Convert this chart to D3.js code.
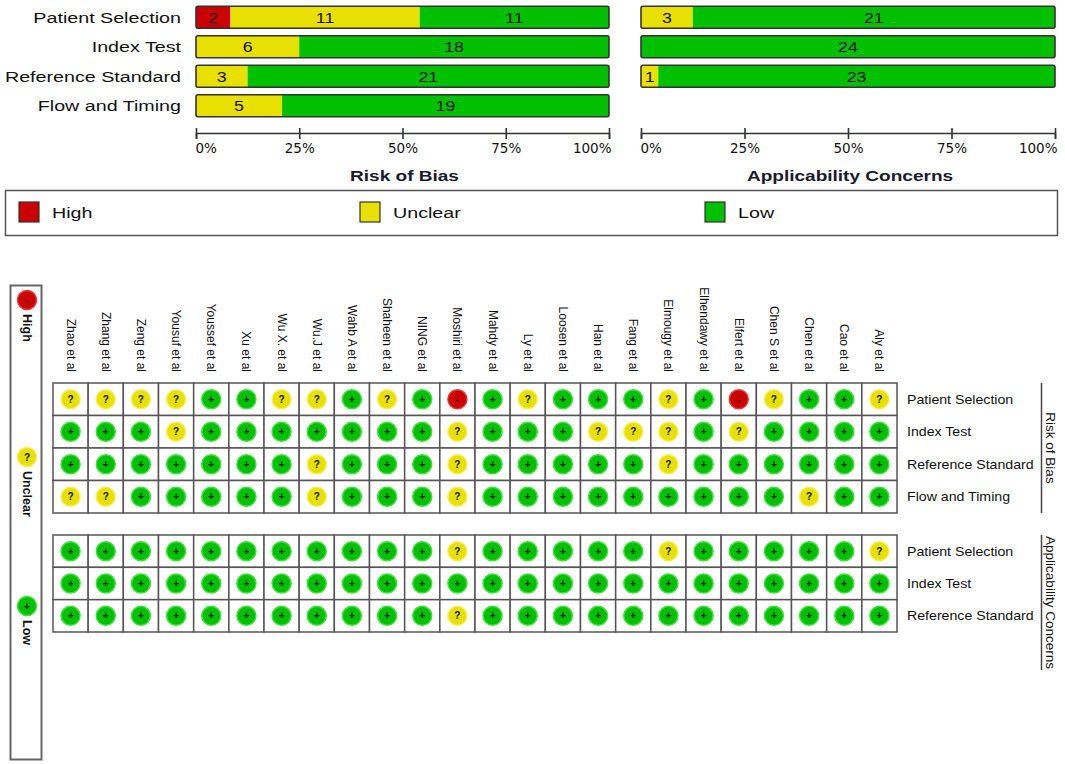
<!DOCTYPE html>
<html>
<head>
<meta charset="utf-8">
<script src="https://cdn.jsdelivr.net/npm/d3@7"></script>
<style>
  body { margin: 0; background: #fff; }
  text { font-family: "Liberation Sans", Arial, sans-serif; fill: #111; }
</style>
</head>
<body>
<div id="chart"></div>
<script>
// Bar chart data (counts of studies)
const domains = ["Patient Selection", "Index Test", "Reference Standard", "Flow and Timing"];
const appDomains = ["Patient Selection", "Index Test", "Reference Standard"];
const robHigh = [2, 0, 0, 0];
const robUnclear = [11, 6, 3, 5];
const robLow = [11, 18, 21, 19];
const appHigh = [0, 0, 0];
const appUnclear = [3, 0, 1];
const appLow = [21, 24, 23];
const pctTicks = [0, 25, 50, 75, 100];

// Study-level judgements: H = high, U = unclear, L = low
const studies = ["Zhao et al", "Zhang et al", "Zeng et al", "Yousuf et al", "Youssef et al", "Xu et al",
  "Wu X. et al", "Wu.J et al", "Wahb A et al", "Shaheen et al", "NING et al", "Moshiri et al",
  "Mahdy et al", "Ly et al", "Loosen et al", "Han et al", "Fang et al", "Elmougy et al",
  "Elhendawy et al", "Elfert et al", "Chen S et al", "Chen et al", "Cao et al", "Aly et al"];
const robPatient = ["U","U","U","U","L","L","U","U","L","U","L","H","L","U","L","L","L","U","L","H","U","L","L","U"];
const robIndex   = ["L","L","L","U","L","L","L","L","L","L","L","U","L","L","L","U","U","U","L","U","L","L","L","L"];
const robRef     = ["L","L","L","L","L","L","L","U","L","L","L","U","L","L","L","L","L","U","L","L","L","L","L","L"];
const robFlow    = ["U","U","L","L","L","L","L","U","L","L","L","U","L","L","L","L","L","L","L","L","L","U","L","L"];
const appPatient = ["L","L","L","L","L","L","L","L","L","L","L","U","L","L","L","L","L","U","L","L","L","L","L","U"];
const appIndex   = ["L","L","L","L","L","L","L","L","L","L","L","L","L","L","L","L","L","L","L","L","L","L","L","L"];
const appRef     = ["L","L","L","L","L","L","L","L","L","L","L","U","L","L","L","L","L","L","L","L","L","L","L","L"];

const colors = { H: "#cc0000", U: "#e8e000", L: "#00c000" };
const rims = { H: "#e03a3a", U: "#f4ee58", L: "#3ee03e" };
const marks = { H: "-", U: "?", L: "+" };

// the top half of the figure uses a wide, stretched sans face
const stretch = 1.27;

const svg = d3.select("#chart").append("svg")
  .attr("width", 1065)
  .attr("height", 764);

function wideText(x, y, anchor, size, str) {
  return svg.append("text")
    .attr("transform", `translate(${x},${y}) scale(${stretch},1)`)
    .attr("text-anchor", anchor)
    .style("font-size", size + "px")
    .text(str);
}

// ---------- summary bars ----------
const yBar = d3.scaleBand()
  .domain(domains)
  .range([2.5, 120.5])
  .paddingInner(0.25)
  .paddingOuter(0.125);

function barPanel(x0, x1, rows, high, unclear, low, title) {
  const x = d3.scaleLinear().domain([0, 100]).range([x0, x1]);
  rows.forEach((r, i) => {
    const total = high[i] + unclear[i] + low[i];
    const segs = [
      { k: "H", v: high[i] },
      { k: "U", v: unclear[i] },
      { k: "L", v: low[i] }
    ];
    let acc = 0;
    segs.forEach(s => { s.start = acc; acc += s.v; });
    const g = svg.append("g");
    g.selectAll("rect.seg")
      .data(segs.filter(s => s.v > 0))
      .join("rect")
      .attr("class", "seg")
      .attr("x", s => x(s.start / total * 100))
      .attr("y", yBar(r))
      .attr("width", s => x(s.v / total * 100) - x(0))
      .attr("height", yBar.bandwidth())
      .attr("fill", s => colors[s.k]);
    g.selectAll("text")
      .data(segs.filter(s => s.v > 0))
      .join("text")
      .attr("transform", s => `translate(${x((s.start + s.v / 2) / total * 100)},${yBar(r) + yBar.bandwidth() / 2 + 5.5}) scale(1.15,1)`)
      .attr("text-anchor", "middle")
      .style("font-size", "15.5px")
      .text(s => s.v);
    g.append("rect")
      .attr("x", x(0)).attr("y", yBar(r))
      .attr("width", x(100) - x(0)).attr("height", yBar.bandwidth())
      .attr("rx", 2)
      .attr("fill", "none").attr("stroke", "#333").attr("stroke-width", 1.6);
  });

  const axis = svg.append("g")
    .attr("transform", "translate(0,133)")
    .call(d3.axisBottom(x).tickValues(pctTicks).tickFormat(d => d + "%").tickSizeOuter(0).tickSize(6));
  axis.select(".domain").attr("stroke", "#333").attr("stroke-width", 1.6);
  axis.selectAll(".tick line").attr("y1", -5).attr("y2", 6).attr("stroke", "#333").attr("stroke-width", 1.6);
  axis.selectAll(".tick text")
    .attr("y", 10)
    .style("font-family", "'DejaVu Sans', sans-serif")
    .style("font-size", "13.5px")
    .attr("fill", "#111")
    .attr("text-anchor", d => d === 0 ? "start" : d === 100 ? "end" : "middle")
    .attr("dx", d => d === 0 ? -1 : d === 100 ? 2 : 0);

  wideText((x0 + x1) / 2 + 2, 181, "middle", 15, title)
    .style("font-weight", "bold")
    .style("fill", "#1a1a2a");
}

// row labels for the left panel
domains.forEach(d => wideText(181, yBar(d) + yBar.bandwidth() / 2 + 5.5, "end", 15.5, d));

barPanel(196, 609, domains, robHigh, robUnclear, robLow, "Risk of Bias");
barPanel(641, 1055, appDomains, appHigh, appUnclear, appLow, "Applicability Concerns");

// ---------- legend ----------
svg.append("rect")
  .attr("x", 5.5).attr("y", 190.5).attr("width", 1052).attr("height", 45)
  .attr("fill", "#fff").attr("stroke", "#555").attr("stroke-width", 1.5);
const legendItems = [
  { k: "H", label: "High", x: 19 },
  { k: "U", label: "Unclear", x: 360 },
  { k: "L", label: "Low", x: 705 }
];
legendItems.forEach(d => {
  svg.append("rect")
    .attr("x", d.x).attr("y", 202).attr("width", 20).attr("height", 20)
    .attr("fill", colors[d.k]).attr("stroke", "#333").attr("stroke-width", 1.2);
  wideText(d.x + 33, 218, "start", 15.5, d.label);
});

// ---------- traffic light grid ----------
const xStudy = d3.scaleBand().domain(studies).range([53, 897]);
const yRob = d3.scaleBand().domain(domains).range([383, 513]);
const yApp = d3.scaleBand().domain(appDomains).range([535, 632]);

const robRows = [robPatient, robIndex, robRef, robFlow];
const appRows = [appPatient, appIndex, appRef];

function drawSymbol(g, k, cx, cy, r) {
  g.append("circle")
    .attr("cx", cx).attr("cy", cy).attr("r", r)
    .attr("fill", colors[k]).attr("stroke", rims[k]).attr("stroke-width", 1.5);
  g.append("text")
    .attr("x", cx).attr("y", cy + 3.5)
    .attr("text-anchor", "middle")
    .style("font-size", "10px")
    .style("font-weight", "bold")
    .style("fill", k === "H" ? "#300" : "#111")
    .text(marks[k]);
}

function grid(yScale, rowNames, rows) {
  const g = svg.append("g");
  rowNames.forEach((name, ri) => {
    studies.forEach((s, ci) => {
      g.append("rect")
        .attr("x", xStudy(s)).attr("y", yScale(name))
        .attr("width", xStudy.bandwidth()).attr("height", yScale.bandwidth())
        .attr("fill", "#fff").attr("stroke", "#555").attr("stroke-width", 1.5);
      drawSymbol(g, rows[ri][ci], xStudy(s) + xStudy.bandwidth() / 2, yScale(name) + yScale.bandwidth() / 2, 9.5);
    });
    g.append("text")
      .attr("transform", `translate(907,${yScale(name) + yScale.bandwidth() / 2 + 4.5}) scale(1.09,1)`)
      .style("font-size", "13px")
      .text(name);
  });
}

grid(yRob, domains, robRows);
grid(yApp, appDomains, appRows);

// study names
svg.selectAll("text.study")
  .data(studies)
  .join("text")
  .attr("class", "study")
  .attr("text-anchor", "end")
  .attr("transform", d => `translate(${xStudy(d) + xStudy.bandwidth() / 2 - 4},372) rotate(90)`)
  .style("font-size", "12px")
  .text(d => d);

// side group labels
[
  { y0: 383, y1: 513, label: "Risk of Bias" },
  { y0: 535, y1: 670, label: "Applicability Concerns" }
].forEach(d => {
  svg.append("line")
    .attr("x1", 1041.5).attr("x2", 1041.5).attr("y1", d.y0).attr("y2", d.y1)
    .attr("stroke", "#444").attr("stroke-width", 1.5);
  svg.append("text")
    .attr("transform", `translate(1046,${(d.y0 + d.y1) / 2}) rotate(90)`)
    .attr("text-anchor", "middle")
    .style("font-size", "13.5px")
    .text(d.label);
});

// left vertical legend
svg.append("rect")
  .attr("x", 10.5).attr("y", 285.5).attr("width", 31).attr("height", 474)
  .attr("fill", "#fff").attr("stroke", "#666").attr("stroke-width", 2);
[
  { k: "H", label: "High", y: 300 },
  { k: "U", label: "Unclear", y: 457 },
  { k: "L", label: "Low", y: 606 }
].forEach(d => {
  drawSymbol(svg, d.k, 27, d.y, 9.5);
  svg.append("text")
    .attr("transform", `translate(22.5,${d.y + 14}) rotate(90)`)
    .attr("text-anchor", "start")
    .style("font-size", "12.5px")
    .style("font-weight", "bold")
    .text(d.label);
});
</script>
</body>
</html>
